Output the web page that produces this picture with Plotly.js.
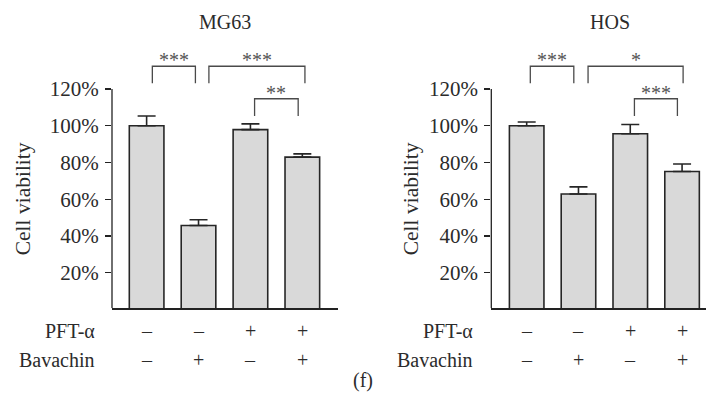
<!DOCTYPE html>
<html>
<head>
<meta charset="utf-8">
<script src="https://cdn.plot.ly/plotly-3.0.1.min.js"></script>
<style>html,body{margin:0;padding:0;background:#fff;}#chart{width:706px;height:408px;}</style>
</head>
<body>
<div id="chart"></div>
<script>
// ---- data ----
const barPositions = [0, 1, 2, 3];
const pftRow = ['–', '–', '+', '+'];
const bavachinRow = ['–', '+', '–', '+'];
const tickValues = [20, 40, 60, 80, 100, 120];
const tickLabels = ['20%', '40%', '60%', '80%', '100%', '120%'];

const mg63Mean = [100, 45.7, 97.9, 82.9];
const mg63Err = [5.3, 3.1, 3.1, 1.8];
const hosMean = [100, 62.8, 95.6, 75.1];
const hosErr = [2.0, 3.9, 5.1, 4.1];
const noErr = [0, 0, 0, 0];

// significance brackets: [left x, right x], [leg bottom y, top y], stars
const mg63BracketX = [[0.11, 0.94], [1.2, 3.05], [2.08, 2.92]];
const mg63BracketY = [[123.1, 132.4], [123.1, 132.4], [105.3, 114.7]];
const mg63Stars = ['***', '***', '**'];
const hosBracketX = [[0.07, 0.91], [1.185, 3.02], [2.08, 2.91]];
const hosBracketY = [[123.1, 132.4], [123.1, 132.4], [105.3, 114.7]];
const hosStars = ['***', '*', '***'];

// ---- style ----
const W = 706, H = 408;
const FONT = 'Liberation Serif';
const TXT = '#2b2b2b';
const AX = '#222';
const px2x = p => p / W;
const px2y = p => 1 - p / H;

const traces = [];
const annotations = [];
const shapes = [];

function panel(xa, ya, mean, err, bx, by, stars) {
  traces.push({
    type: 'bar', x: barPositions, y: mean, width: 0.667,
    xaxis: xa, yaxis: ya,
    marker: {color: '#d9d9d9', line: {color: '#262626', width: 1.6}},
    error_y: {type: 'data', symmetric: false, array: err, arrayminus: noErr,
              color: '#262626', thickness: 1.6, width: 9},
    hoverinfo: 'skip'
  });
  bx.forEach((pair, i) => {
    traces.push({
      type: 'scatter', mode: 'lines', xaxis: xa, yaxis: ya,
      x: [pair[0], pair[0], pair[1], pair[1]],
      y: [by[i][0], by[i][1], by[i][1], by[i][0]],
      line: {color: '#4a4a4a', width: 1.3}, hoverinfo: 'skip', cliponaxis: false
    });
    annotations.push({
      xref: xa, yref: ya, x: (pair[0] + pair[1]) / 2, y: by[i][1],
      xanchor: 'center', yanchor: 'bottom', yshift: -7, text: stars[i], showarrow: false,
      font: {family: FONT, size: 20, color: '#555'}
    });
  });
  shapes.push({type: 'line', xref: xa + ' domain', yref: ya, x0: 0, x1: 0,
               y0: 0.6, y1: 120, line: {color: AX, width: 1.3}});
  barPositions.forEach((p, i) => {
    annotations.push({xref: xa, yref: 'paper', x: p, y: px2y(331), text: pftRow[i],
      xanchor: 'center', yanchor: 'middle',
      showarrow: false, font: {family: FONT, size: 20, color: TXT}});
    annotations.push({xref: xa, yref: 'paper', x: p, y: px2y(359.5), text: bavachinRow[i],
      xanchor: 'center', yanchor: 'middle',
      showarrow: false, font: {family: FONT, size: 20, color: TXT}});
  });
}

panel('x', 'y', mg63Mean, mg63Err, mg63BracketX, mg63BracketY, mg63Stars);
panel('x2', 'y2', hosMean, hosErr, hosBracketX, hosBracketY, hosStars);

function txt(x, y, text, opts, size) {
  annotations.push(Object.assign({xref: 'paper', yref: 'paper', x: px2x(x), y: px2y(y),
    xanchor: 'center', yanchor: 'middle',
    text: text, showarrow: false, font: {family: FONT, size: size || 20, color: TXT}}, opts || {}));
}
txt(225, 22, 'MG63');
txt(609.7, 22, 'HOS');
txt(23.3, 199, 'Cell viability', {textangle: -90}, 21.5);
txt(411.3, 199, 'Cell viability', {textangle: -90}, 21.5);
txt(96.7, 331, 'PFT-α', {xanchor: 'right'});
txt(96.7, 359.5, 'Bavachin', {xanchor: 'right'});
txt(474.7, 331, 'PFT-α', {xanchor: 'right'});
txt(474.7, 359.5, 'Bavachin', {xanchor: 'right'});
txt(363.5, 380, '(f)');

const yDomain = [px2y(308.3), px2y(52.27)];
function yax(anchor) {
  return {domain: yDomain, range: [0.6, 140], anchor: anchor, showline: false,
    showgrid: false, zeroline: false, ticks: 'outside', ticklen: 6, tickwidth: 1.3,
    tickcolor: AX, tickvals: tickValues, ticktext: tickLabels, automargin: false,
    ticklabelstandoff: 2,
    tickfont: {family: FONT, size: 21, color: TXT}, fixedrange: true};
}
function xax(domain, range, anchor) {
  return {domain: domain, range: range, anchor: anchor, showline: true, linecolor: AX,
    linewidth: 1.3, showgrid: false, zeroline: false, ticks: '', showticklabels: false,
    automargin: false, fixedrange: true};
}

const layout = {
  width: W, height: H, margin: {l: 0, r: 0, t: 0, b: 0, pad: 0, autoexpand: false},
  font: {family: FONT, size: 20, color: TXT},
  paper_bgcolor: '#fff', plot_bgcolor: 'rgba(0,0,0,0)', showlegend: false,
  xaxis: xax([px2x(112), px2x(338.3)], [-0.667, 3.693], 'y'),
  yaxis: yax('x'),
  xaxis2: xax([px2x(491.3), 1], [-0.683, 3.462], 'y2'),
  yaxis2: yax('x2'),
  annotations: annotations, shapes: shapes, bargap: 0
};

Plotly.newPlot('chart', traces, layout, {displayModeBar: false, staticPlot: true});
</script>
</body>
</html>
